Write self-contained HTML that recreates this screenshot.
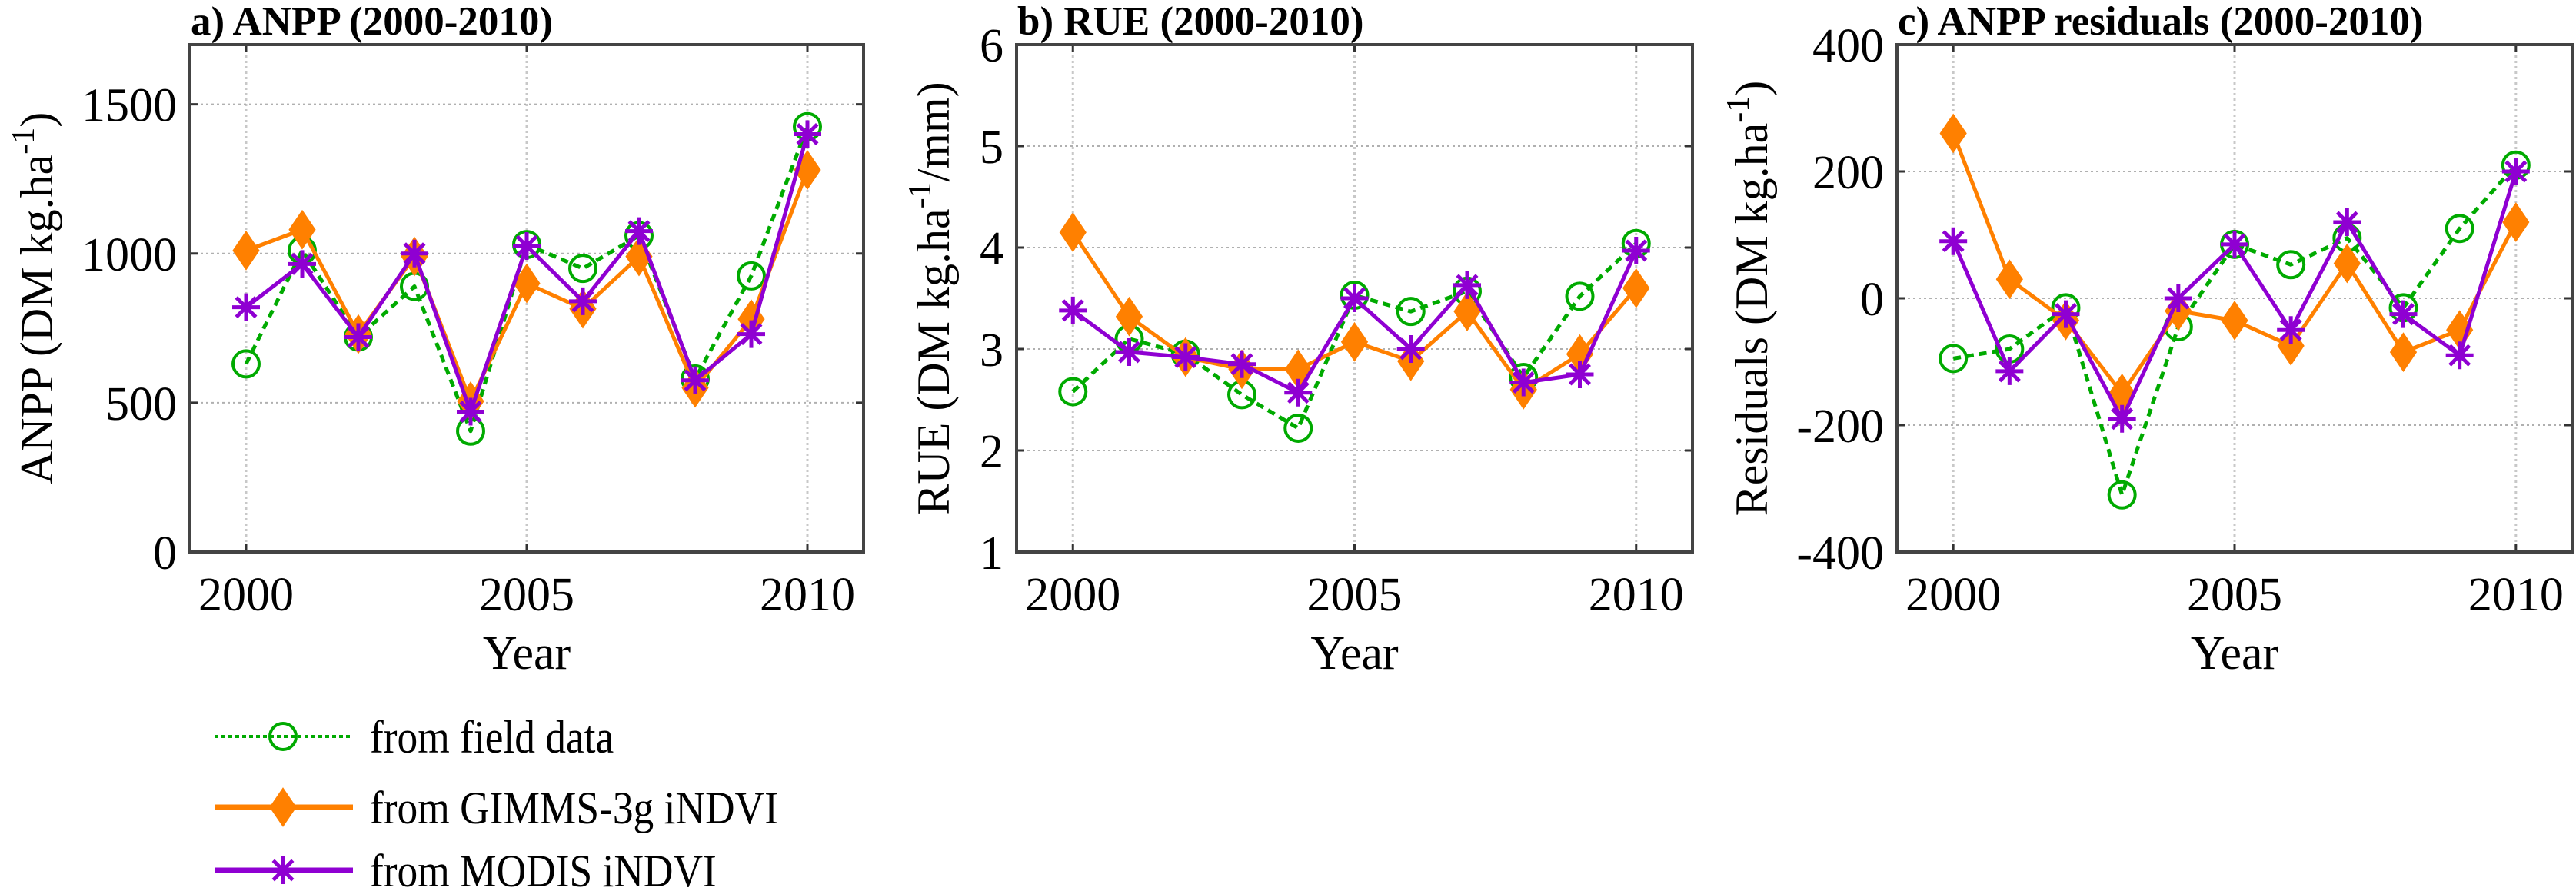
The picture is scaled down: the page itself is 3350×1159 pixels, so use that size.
<!DOCTYPE html>
<html><head><meta charset="utf-8"><style>
html,body{margin:0;padding:0;background:#fff;}
svg{display:block;font-family:"Liberation Serif","Times New Roman",serif;}
</style></head><body>
<svg id="fig" width="3350" height="1159" viewBox="0 0 3350 1159" xmlns="http://www.w3.org/2000/svg"></svg>
<script>
const years = [2000,2001,2002,2003,2004,2005,2006,2007,2008,2009,2010];
const xTicks = [2000,2005,2010];

const anppField = [630,1010,720,890,405,1030,950,1060,580,925,1425];
const anppGimms = [1010,1080,730,990,505,900,815,990,550,780,1280];
const anppModis = [820,965,720,1000,470,1025,840,1075,575,730,1400];
const anppTicks = [0,500,1000,1500];

const rueField = [2.58,3.1,2.95,2.55,2.22,3.53,3.37,3.57,2.72,3.52,4.04];
const rueGimms = [4.15,3.32,2.92,2.8,2.8,3.07,2.88,3.37,2.6,2.95,3.6];
const rueModis = [3.38,2.97,2.92,2.85,2.57,3.5,3.0,3.63,2.67,2.75,3.97];
const rueTicks = [1,2,3,4,5,6];

const resField = [-95,-80,-15,-310,-45,85,53,95,-15,110,210];
const resGimms = [260,30,-35,-150,-20,-35,-75,55,-85,-50,120];
const resModis = [90,-115,-25,-190,0,85,-50,120,-25,-90,200];
const resTicks = [-400,-200,0,200,400];

const NS = "http://www.w3.org/2000/svg";
const svg = document.getElementById('fig');
const GREEN = "#00aa00", ORANGE = "#ff8000", PURPLE = "#8f00d2";

function el(tag, attrs, parent){
  const e = document.createElementNS(NS, tag);
  for (const k in attrs) e.setAttribute(k, attrs[k]);
  (parent||svg).appendChild(e);
  return e;
}
function stext(parent, x, y, sx, attrs){
  const a = Object.assign({x:0,y:0,transform:`translate(${x} ${y}) scale(${sx} 1)`,fill:'#000'}, attrs);
  return el('text', a, parent);
}

function marker(g, type, cx, cy){
  let m;
  if (type === 'circle'){
    m = el('circle',{cx:cx,cy:cy,r:17,fill:'none',stroke:GREEN,'stroke-width':4},g);
    
    
  } else if (type === 'diamond'){
    m = el('polygon',{points:`${cx},${cy-25} ${cx+17},${cy} ${cx},${cy+25} ${cx-17},${cy}`,fill:ORANGE,stroke:ORANGE,'stroke-width':1},g);
    
    
  } else {
    const r = 18, d = r*0.707;
    m = el('path',{d:`M${cx-r},${cy}H${cx+r}M${cx},${cy-r}V${cy+r}M${cx-d},${cy-d}L${cx+d},${cy+d}M${cx-d},${cy+d}L${cx+d},${cy-d}`,stroke:PURPLE,'stroke-width':5,fill:'none'},g);
    
    
  }
}

function panel(cfg){
  const {left,right,top,bottom,ymin,ymax,yticks,title,ylabel,ylabelX,id} = cfg;
  const g = el('g',{});
  
  
  const xs = v => left + (v-1999)/12*(right-left);
  const ys = v => bottom - (v-ymin)/(ymax-ymin)*(bottom-top);
  xTicks.forEach(t=>{
    const l = el('line',{x1:xs(t),x2:xs(t),y1:top,y2:bottom,stroke:'#c8c8c8','stroke-width':3,'stroke-dasharray':'3,4'},g);
    
    
  });
  yticks.forEach(t=>{
    if (t===ymin || t===ymax) return;
    const l = el('line',{x1:left,x2:right,y1:ys(t),y2:ys(t),stroke:'#b0b0b0','stroke-width':2,'stroke-dasharray':'3,4'},g);
    
    
  });
  xTicks.forEach(t=>{
    el('line',{x1:xs(t),x2:xs(t),y1:bottom,y2:bottom-10,stroke:'#333','stroke-width':3},g);
    el('line',{x1:xs(t),x2:xs(t),y1:top,y2:top+10,stroke:'#333','stroke-width':3},g);
    const tx = stext(g, xs(t), bottom+76, 1.0, {'font-size':62,'text-anchor':'middle'});
    tx.textContent = t;
    
    
  });
  yticks.forEach(t=>{
    el('line',{x1:left,x2:left+10,y1:ys(t),y2:ys(t),stroke:'#333','stroke-width':3},g);
    el('line',{x1:right,x2:right-10,y1:ys(t),y2:ys(t),stroke:'#333','stroke-width':3},g);
    const tx = stext(g, left-17, ys(t)+22, 1.0, {'font-size':62,'text-anchor':'end'});
    tx.textContent = t;
    
    
  });
  const box = el('rect',{x:left,y:top,width:right-left,height:bottom-top,fill:'none',stroke:'#444','stroke-width':4},g);
  
  
  const series = [
    {vals:cfg.field,color:GREEN,dash:'10,7',type:'circle',name:'field-series'},
    {vals:cfg.gimms,color:ORANGE,dash:null,type:'diamond',name:'gimms-series'},
    {vals:cfg.modis,color:PURPLE,dash:null,type:'star',name:'modis-series'}
  ];
  series.forEach(s=>{
    const sg = el('g',{},g);
    
    
    const pts = s.vals.map((v,i)=>xs(years[i])+','+ys(v)).join(' ');
    const pl = el('polyline',{points:pts,fill:'none',stroke:s.color,'stroke-width':5,'stroke-linejoin':'round'},sg);
    if (s.dash) pl.setAttribute('stroke-dasharray', s.dash);
    
    
    s.vals.forEach((v,i)=>marker(sg,s.type,xs(years[i]),ys(v)));
  });
  const tt = stext(g, left+1, 45, 1.0, {'font-size':53,'font-weight':'bold'});
  tt.textContent = title;
  
  
  const xl = stext(g, (left+right)/2, bottom+152, 1.0, {'font-size':62,'text-anchor':'middle'});
  xl.textContent = 'Year';
  
  
  const cy = (top+bottom)/2;
  const yl = el('text',{x:ylabelX,y:cy,'font-size':60,'text-anchor':'middle',fill:'#000',transform:`rotate(-90 ${ylabelX} ${cy})`},g);
  
  
  const t1 = el('tspan',{},yl); t1.textContent = ylabel[0];
  const t2 = el('tspan',{dy:-24,'font-size':42},yl); t2.textContent = '-1';
  const t3 = el('tspan',{dy:24},yl); t3.textContent = ylabel[1];
}

panel({id:'anpp',left:247,right:1123,top:58,bottom:718,ymin:0,ymax:1700,yticks:anppTicks,
  title:'a) ANPP (2000-2010)',ylabel:['ANPP (DM kg.ha',')'],ylabelX:68,
  field:anppField,gimms:anppGimms,modis:anppModis});
panel({id:'rue',left:1322,right:2201,top:58,bottom:718,ymin:1,ymax:6,yticks:rueTicks,
  title:'b) RUE (2000-2010)',ylabel:['RUE (DM kg.ha','/mm)'],ylabelX:1234,
  field:rueField,gimms:rueGimms,modis:rueModis});
panel({id:'residuals',left:2467,right:3345,top:58,bottom:718,ymin:-400,ymax:400,yticks:resTicks,
  title:'c) ANPP residuals (2000-2010)',ylabel:['Residuals (DM kg.ha',')'],ylabelX:2298,
  field:resField,gimms:resGimms,modis:resModis});

const legend = el('g',{});


const legendLabels = ['from field data','from GIMMS-3g iNDVI','from MODIS iNDVI'];
const legendRows = [958,1050,1132];
const legendTypes = ['circle','diamond','star'];
const legendColors = [GREEN,ORANGE,PURPLE];
legendLabels.forEach((lab,i)=>{
  const g = el('g',{},legend);
  
  
  const y = legendRows[i];
  const ln = el('line',{x1:279,x2:459,y1:y,y2:y,stroke:legendColors[i],'stroke-width':i===0?4:7},g);
  if (i===0) ln.setAttribute('stroke-dasharray','5,4');
  marker(g, legendTypes[i], 368, y);
  const t = stext(g, 481, y+21, 0.89, {'font-size':60});
  t.textContent = lab;
});
</script>
</body></html>
